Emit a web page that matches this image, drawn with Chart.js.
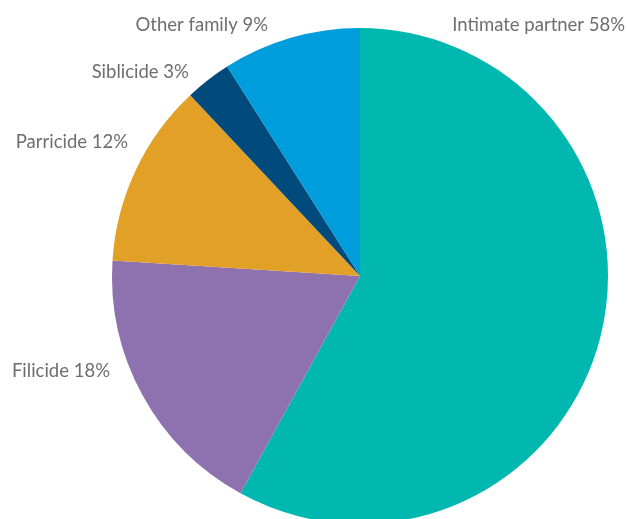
<!DOCTYPE html>
<html><head><meta charset="utf-8">
<script src="https://cdn.jsdelivr.net/npm/chart.js@4"></script>
<style>
html,body{margin:0;padding:0;overflow:hidden;background:#fff;}
#wrap{position:relative;width:627px;height:524px;}
</style></head>
<body>
<div id="wrap"><canvas id="c"></canvas></div>
<script>
const categories = ["Intimate partner", "Filicide", "Parricide", "Siblicide", "Other family"];
const values = [58, 18, 12, 3, 9];
const colors = ["#00b8b0", "#8e72b0", "#e3a026", "#004b7c", "#009ddc"];
// label anchors relative to pie centre, in units of radius (right-aligned text)
const labelAnchors = [[1.069, -1.012], [-1.008, 0.382], [-0.935, -0.54], [-0.690, -0.822], [-0.371, -1.012]];

const labelPlugin = {
  id: 'outerLabels',
  afterDraw(chart) {
    const ctx = chart.ctx;
    const arc = chart.getDatasetMeta(0).data[0];
    const cx = arc.x, cy = arc.y, r = arc.outerRadius;
    ctx.save();
    ctx.font = '18.5px Lato';
    ctx.fillStyle = '#6e6e6e';
    ctx.textAlign = 'right';
    ctx.textBaseline = 'middle';
    categories.forEach((c, i) => {
      const a = labelAnchors[i];
      ctx.fillText(c + ' ' + values[i] + '%', cx + a[0] * r, cy + a[1] * r);
    });
    ctx.restore();
  }
};

new Chart(document.getElementById('c'), {
  type: 'pie',
  data: { labels: categories, datasets: [{ data: values, backgroundColor: colors, borderWidth: 0 }] },
  options: {
    responsive: true, maintainAspectRatio: false, animation: false,
    layout: { padding: { left: 93, right: 0, top: 28, bottom: 0 } },
    plugins: { legend: { display: false }, tooltip: { enabled: false } }
  },
  plugins: [labelPlugin]
});
</script>
</body></html>
